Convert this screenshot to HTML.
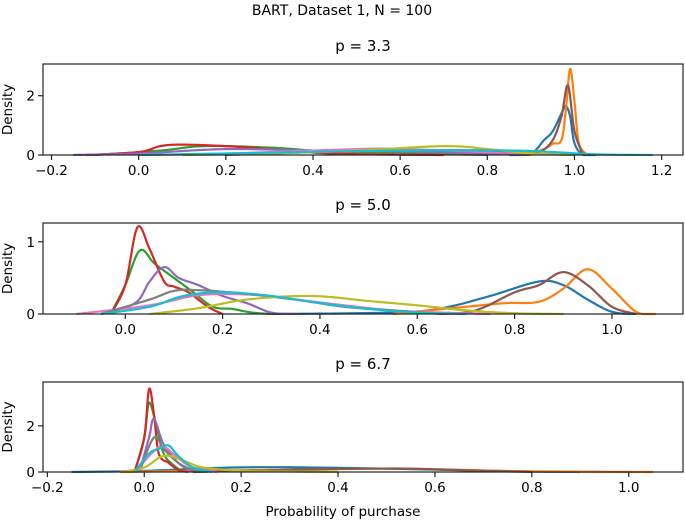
<!DOCTYPE html>
<html><head><meta charset="utf-8">
<style>
html,body{margin:0;padding:0;background:#fff;}
svg{display:block;font-family:"DejaVu Sans","Liberation Sans",sans-serif;}
</style></head>
<body>
<svg id="chart" width="685" height="521" viewBox="0 0 685 521">
<text x="342" y="15" text-anchor="middle" font-size="14">BART, Dataset 1, N = 100</text>
</svg>
<script>
// Panel 1: p = 3.3
const p1Blue=[[0.85,0],[0.9,0.05],[0.93,0.5],[0.95,0.8],[0.97,1.4],[0.98,1.65],[0.99,1.3],[1.0,0.4],[1.02,0],[1.05,0]];
const p1Orange=[[0.88,0],[0.93,0.2],[0.95,0.38],[0.97,0.5],[0.98,1.5],[0.99,2.9],[1.0,1.8],[1.01,0.4],[1.03,0]];
const p1Green=[[-0.1,0],[0.05,0.15],[0.15,0.3],[0.3,0.25],[0.4,0.15],[0.5,0.1],[0.6,0.08],[0.7,0.03],[0.8,0]];
const p1Red=[[-0.12,0],[0.0,0.1],[0.05,0.3],[0.1,0.35],[0.2,0.3],[0.3,0.2],[0.4,0.08],[0.5,0.03],[0.6,0.01],[0.7,0]];
const p1Purple=[[-0.15,0],[0.0,0.05],[0.2,0.2],[0.4,0.15],[0.6,0.12],[0.8,0.05],[0.9,0]];
const p1Brown=[[0.88,0],[0.92,0.1],[0.95,0.5],[0.97,1.3],[0.985,2.35],[1.0,0.8],[1.02,0]];
const p1Pink=[[0.0,0],[0.2,0.05],[0.5,0.2],[0.6,0.2],[0.8,0.1],[0.9,0.05],[1.0,0]];
const p1Gray=[[0.2,0],[0.4,0.1],[0.6,0.15],[0.8,0.15],[0.9,0.05],[1.0,0]];
const p1Olive=[[0.1,0],[0.3,0.05],[0.5,0.15],[0.7,0.3],[0.8,0.2],[0.9,0.05],[1.0,0]];
const p1Cyan=[[0.0,0],[0.2,0.05],[0.6,0.15],[0.85,0.15],[0.95,0.1],[1.05,0.02],[1.18,0]];
// Panel 2: p = 5.0
const p2Blue=[[0.3,0],[0.55,0.02],[0.65,0.08],[0.75,0.25],[0.85,0.45],[0.9,0.4],[0.95,0.2],[1.0,0.03],[1.05,0]];
const p2Orange=[[0.55,0],[0.7,0.1],[0.78,0.15],[0.85,0.17],[0.9,0.35],[0.95,0.62],[1.0,0.35],[1.05,0.03],[1.09,0]];
const p2Green=[[-0.03,0],[0.0,0.4],[0.03,0.88],[0.06,0.7],[0.1,0.5],[0.14,0.3],[0.18,0.1],[0.22,0.07],[0.26,0.02],[0.3,0]];
const p2Red=[[-0.03,0],[0.0,0.4],[0.025,1.2],[0.05,0.9],[0.08,0.45],[0.1,0.38],[0.13,0.3],[0.17,0.1],[0.2,0]];
const p2Purple=[[-0.05,0],[0.02,0.15],[0.05,0.45],[0.08,0.65],[0.11,0.5],[0.15,0.4],[0.2,0.25],[0.25,0.15],[0.3,0.02],[0.35,0]];
const p2Brown=[[0.65,0],[0.72,0.05],[0.8,0.3],[0.85,0.4],[0.9,0.58],[0.95,0.4],[1.0,0.1],[1.05,0]];
const p2Pink=[[-0.1,0],[0.05,0.12],[0.15,0.26],[0.25,0.27],[0.35,0.2],[0.45,0.12],[0.55,0.05],[0.65,0.02],[0.75,0]];
const p2Gray=[[-0.05,0],[0.05,0.2],[0.1,0.32],[0.15,0.33],[0.25,0.28],[0.35,0.2],[0.45,0.1],[0.55,0.05],[0.65,0]];
const p2Olive=[[0.05,0],[0.15,0.08],[0.25,0.2],[0.38,0.25],[0.5,0.18],[0.6,0.12],[0.7,0.05],[0.8,0.01],[0.9,0]];
const p2Cyan=[[-0.05,0],[0.05,0.1],[0.12,0.25],[0.2,0.3],[0.3,0.25],[0.4,0.15],[0.5,0.07],[0.6,0.02],[0.7,0]];
// Panel 3: p = 6.7
const p3Blue=[[-0.15,0],[0.0,0.05],[0.2,0.2],[0.4,0.18],[0.6,0.1],[0.8,0.02],[0.9,0]];
const p3Orange=[[-0.05,0],[0.1,0.05],[0.3,0.1],[0.5,0.15],[0.6,0.12],[0.8,0.03],[1.05,0]];
const p3Green=[[-0.02,0],[0.0,1.5],[0.01,3.0],[0.025,2.0],[0.04,0.8],[0.06,0.3],[0.08,0]];
const p3Red=[[-0.02,0],[0.0,1.5],[0.01,3.6],[0.02,2.5],[0.03,0.8],[0.05,0.4],[0.07,0.1],[0.09,0]];
const p3Purple=[[-0.01,0],[0.01,1.5],[0.02,2.3],[0.04,1.2],[0.07,0.4],[0.1,0.05],[0.13,0]];
const p3Brown=[[0.1,0],[0.2,0.05],[0.5,0.15],[0.7,0.05],[0.8,0]];
const p3Pink=[[-0.02,0],[0.02,0.9],[0.04,1.1],[0.07,0.6],[0.1,0.2],[0.15,0]];
const p3Gray=[[-0.01,0],[0.02,1.5],[0.04,1.0],[0.07,0.4],[0.1,0.1],[0.13,0]];
const p3Olive=[[-0.05,0],[0.0,0.2],[0.04,0.7],[0.08,0.5],[0.12,0.2],[0.2,0.05],[0.3,0.02],[0.4,0]];
const p3Cyan=[[-0.02,0],[0.01,0.8],[0.03,1.0],[0.05,1.15],[0.07,0.7],[0.1,0.2],[0.14,0]];

const p1XTicks=[-0.2,0.0,0.2,0.4,0.6,0.8,1.0,1.2];
const p2XTicks=[0.0,0.2,0.4,0.6,0.8,1.0];
const p3XTicks=[-0.2,0.0,0.2,0.4,0.6,0.8,1.0];
const p1YTicks=[0,2];
const p2YTicks=[0,1];
const p3YTicks=[0,2];

const colors=['#1f77b4','#ff7f0e','#2ca02c','#d62728','#9467bd','#8c564b','#e377c2','#7f7f7f','#bcbd22','#17becf'];
const seriesNames=['blue','orange','green','red','purple','brown','pink','gray','olive','cyan'];
const NS='http://www.w3.org/2000/svg';
const svg=document.getElementById('chart');

function mk(tag,attrs,parent){const e=document.createElementNS(NS,tag);for(const k in attrs)e.setAttribute(k,attrs[k]);(parent||svg).appendChild(e);return e;}

function smooth(pts){
  const out=[];
  for(let i=0;i<pts.length-1;i++){
    const p0=pts[Math.max(0,i-1)],p1=pts[i],p2=pts[i+1],p3=pts[Math.min(pts.length-1,i+2)];
    for(let s=0;s<16;s++){
      const t=s/16,t2=t*t,t3=t2*t;
      const f=(a,b,c,d)=>0.5*((2*b)+(-a+c)*t+(2*a-5*b+4*c-d)*t2+(-a+3*b-3*c+d)*t3);
      out.push([f(p0[0],p1[0],p2[0],p3[0]),Math.max(0,f(p0[1],p1[1],p2[1],p3[1]))]);
    }
  }
  out.push(pts[pts.length-1]);
  return out;
}

function panel(cfg){
  const {name,title,left,right,top,bottom,xmin,xmax,ymax,xticks,yticks,series,xlabel}=cfg;
  const g=mk('g',{});
  
  
  const xs=v=>left+(v-xmin)/(xmax-xmin)*(right-left);
  const ys=v=>bottom-v/ymax*(bottom-top);
  const t=mk('text',{x:(left+right)/2,y:top-13,'text-anchor':'middle','font-size':'15'},g);
  t.textContent=title;
  
  
  const yl=mk('text',{x:0,y:0,'text-anchor':'middle','font-size':'13.5',transform:`translate(12,${(top+bottom)/2}) rotate(-90)`},g);
  yl.textContent='Density';
  
  
  series.forEach((pts,i)=>{
    const sm=smooth(pts);
    const d=sm.map((p,j)=>(j?'L':'M')+xs(p[0]).toFixed(2)+','+ys(p[1]).toFixed(2)).join('');
    const path=mk('path',{d:d,fill:'none',stroke:colors[i],'stroke-width':'2.2','stroke-linejoin':'round'},g);
    
    
  });
  const frame=mk('rect',{x:left,y:top,width:right-left,height:bottom-top,fill:'none',stroke:'#222','stroke-width':'1.2'},g);
  
  
  xticks.forEach(v=>{
    const x=xs(v);
    mk('line',{x1:x,x2:x,y1:bottom,y2:bottom+5,stroke:'#222','stroke-width':'1.2'},g);
    const tx=mk('text',{x:x,y:bottom+20,'text-anchor':'middle','font-size':'13.5'},g);
    tx.textContent=(v<0?'\u2212':'')+Math.abs(v).toFixed(1);
    
    
  });
  yticks.forEach(v=>{
    const y=ys(v);
    mk('line',{x1:left-5,x2:left,y1:y,y2:y,stroke:'#222','stroke-width':'1.2'},g);
    const ty=mk('text',{x:left-8,y:y+5,'text-anchor':'end','font-size':'13.5'},g);
    ty.textContent=String(v);
    
    
  });
  if(xlabel){
    const xl=mk('text',{x:(left+right)/2-20,y:bottom+44,'text-anchor':'middle','font-size':'13.5'},g);
    xl.textContent=xlabel;
    
    
  }
}

panel({name:'panel-p33',title:'p = 3.3',left:43,right:683,top:64,bottom:155,xmin:-0.2195,xmax:1.249,ymax:3.07,xticks:p1XTicks,yticks:p1YTicks,
  series:[p1Blue,p1Orange,p1Green,p1Red,p1Purple,p1Brown,p1Pink,p1Gray,p1Olive,p1Cyan]});
panel({name:'panel-p50',title:'p = 5.0',left:43,right:683,top:223,bottom:314,xmin:-0.169,xmax:1.146,ymax:1.26,xticks:p2XTicks,yticks:p2YTicks,
  series:[p2Blue,p2Orange,p2Green,p2Red,p2Purple,p2Brown,p2Pink,p2Gray,p2Olive,p2Cyan]});
panel({name:'panel-p67',title:'p = 6.7',left:43,right:683,top:382,bottom:472,xmin:-0.209,xmax:1.112,ymax:3.9,xticks:p3XTicks,yticks:p3YTicks,
  series:[p3Blue,p3Orange,p3Green,p3Red,p3Purple,p3Brown,p3Pink,p3Gray,p3Olive,p3Cyan],xlabel:'Probability of purchase'});
</script>
</body></html>
